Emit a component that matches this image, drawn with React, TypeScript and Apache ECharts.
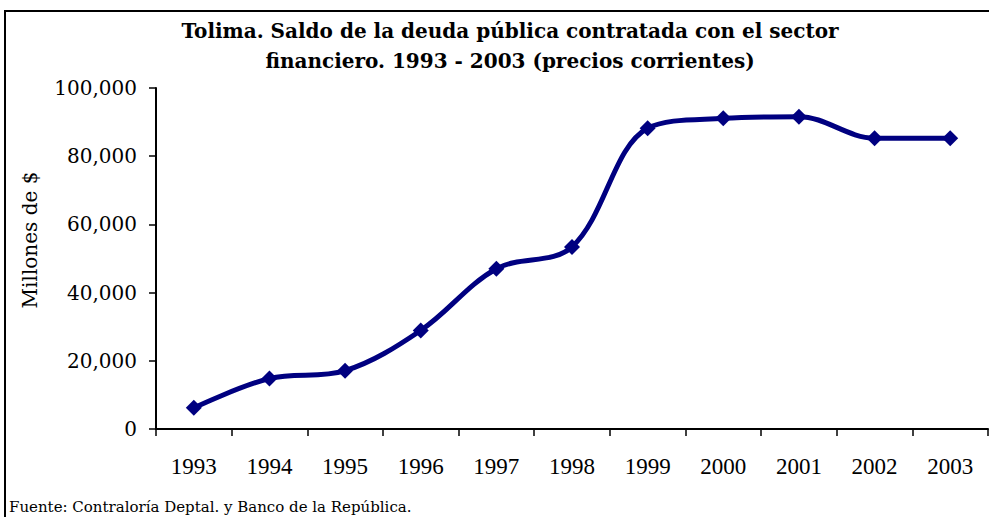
import React, { useEffect, useRef } from "react";
import * as echarts from "echarts";

const years = ["1993", "1994", "1995", "1996", "1997", "1998", "1999", "2000", "2001", "2002", "2003"];
const saldo = [6200, 14800, 17100, 28900, 47000, 53400, 88200, 91100, 91600, 85300, 85300];
const yTicks = [0, 20000, 40000, 60000, 80000, 100000];

const titleText = "Tolima. Saldo de la deuda pública contratada con el sector\nfinanciero. 1993 - 2003 (precios corrientes)";
const yName = "Millones de $";
const sourceText = "Fuente: Contraloría Deptal. y Banco de la República.";

export default function App() {
  const ref = useRef<HTMLDivElement>(null);
  useEffect(() => {
    if (!ref.current) return;
    const chart = echarts.init(ref.current, null, { renderer: "svg" });
    chart.setOption({
      animation: false,
      backgroundColor: "#ffffff",
      grid: { left: 156, right: 1, top: 88, bottom: 88, containLabel: false },
      xAxis: {
        type: "category",
        data: years,
        boundaryGap: true,
        axisLine: { lineStyle: { color: "#000", width: 2 } },
        axisTick: { show: true, alignWithLabel: false, length: 7, lineStyle: { color: "#000", width: 1.5 } },
        axisLabel: { color: "#000", fontFamily: "Liberation Serif", fontSize: 23, margin: 26 },
        splitLine: { show: false },
      },
      yAxis: {
        type: "value",
        min: yTicks[0],
        max: yTicks[yTicks.length - 1],
        interval: 20000,
        axisLine: { show: true, lineStyle: { color: "#000", width: 2 } },
        axisTick: { show: true, length: 7, lineStyle: { color: "#000", width: 1.5 } },
        axisLabel: {
          color: "#000",
          fontFamily: "DejaVu Serif",
          fontSize: 20,
          margin: 19,
          formatter: (v: number) => v.toLocaleString("en-US"),
        },
        splitLine: { show: false },
      },
      graphic: [
        {
          type: "rect",
          shape: { x: 5, y: 11, width: 1000, height: 600 },
          style: { fill: "none", stroke: "#000", lineWidth: 2 },
          silent: true,
        },
        {
          type: "text",
          x: 510,
          y: 16,
          style: {
            text: titleText,
            textAlign: "center",
            textVerticalAlign: "top",
            font: "bold 20px 'DejaVu Serif'",
            lineHeight: 30,
            fill: "#000",
          },
        },
        {
          type: "text",
          x: 30,
          y: 240,
          rotation: Math.PI / 2,
          style: {
            text: yName,
            textAlign: "center",
            textVerticalAlign: "middle",
            font: "20px 'DejaVu Serif'",
            fill: "#000",
          },
        },
        {
          type: "text",
          x: 9,
          y: 499,
          style: {
            text: sourceText,
            textAlign: "left",
            textVerticalAlign: "top",
            font: "15px 'DejaVu Serif'",
            fill: "#000",
          },
        },
      ],
      series: [
        {
          type: "line",
          data: saldo,
          smooth: 0.35,
          symbol: "diamond",
          symbolSize: 16,
          lineStyle: { color: "#000080", width: 5 },
          itemStyle: { color: "#000080" },
        },
      ],
    });
    return () => chart.dispose();
  }, []);
  return <div ref={ref} style={{ position: "fixed", left: 0, top: 0, width: 989, height: 517 }} />;
}
